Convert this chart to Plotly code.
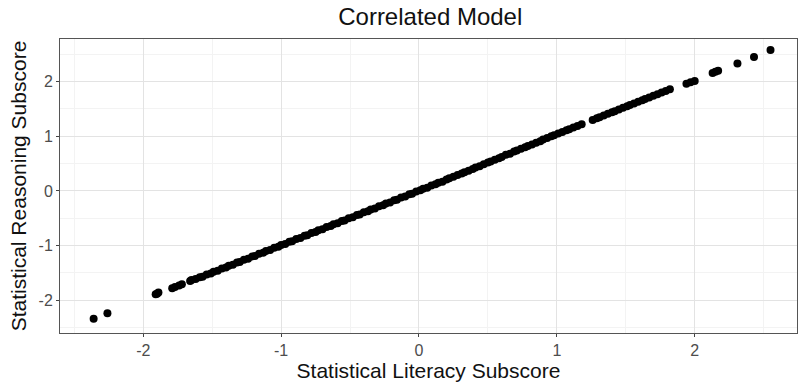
import plotly.graph_objects as go

# Factor scores from the correlated model: literacy (x) vs reasoning (y)
literacy = [
    -2.36, -2.26, -1.91, -1.90, -1.89, -1.79, -1.77, -1.74, -1.72, -1.66, -1.65,
    -1.62, -1.59, -1.57, -1.54, -1.51, -1.49, -1.46, -1.43, -1.40, -1.38,
    -1.35, -1.32, -1.30, -1.27, -1.24, -1.21, -1.19, -1.16, -1.13, -1.11,
    -1.08, -1.05, -1.02, -1.00, -0.97, -0.94, -0.92, -0.89, -0.86, -0.83,
    -0.81, -0.78, -0.75, -0.73, -0.70, -0.67, -0.64, -0.62, -0.59, -0.56,
    -0.54, -0.51, -0.48, -0.45, -0.43, -0.40, -0.37, -0.35, -0.32, -0.29,
    -0.26, -0.24, -0.21, -0.18, -0.16, -0.13, -0.10, -0.07, -0.05, -0.02,
    0.01, 0.03, 0.06, 0.09, 0.12, 0.14, 0.17, 0.20, 0.22, 0.25,
    0.28, 0.31, 0.33, 0.36, 0.39, 0.41, 0.44, 0.47, 0.50, 0.52,
    0.55, 0.58, 0.60, 0.63, 0.66, 0.69, 0.71, 0.74, 0.77, 0.79,
    0.82, 0.85, 0.88, 0.90, 0.93, 0.96, 0.98, 1.01, 1.04, 1.07,
    1.09, 1.12, 1.15, 1.18, 1.26, 1.29, 1.31, 1.34, 1.37, 1.40,
    1.42, 1.45, 1.48, 1.51, 1.53, 1.56, 1.59, 1.62, 1.64, 1.67,
    1.70, 1.73, 1.76, 1.79, 1.82,
    1.94, 1.97, 2.00, 2.13, 2.15, 2.17, 2.31, 2.43, 2.55,
]
reasoning = [
    -2.34, -2.24, -1.89, -1.88, -1.86, -1.78, -1.76, -1.73, -1.71, -1.65, -1.63,
    -1.61, -1.58, -1.57, -1.53, -1.51, -1.48, -1.46, -1.42, -1.40, -1.37,
    -1.35, -1.31, -1.30, -1.26, -1.24, -1.20, -1.19, -1.15, -1.13, -1.10,
    -1.08, -1.04, -1.02, -0.99, -0.97, -0.93, -0.92, -0.88, -0.86, -0.82,
    -0.81, -0.77, -0.75, -0.72, -0.70, -0.66, -0.64, -0.61, -0.59, -0.55,
    -0.54, -0.50, -0.48, -0.44, -0.43, -0.39, -0.37, -0.34, -0.32, -0.28,
    -0.26, -0.23, -0.21, -0.17, -0.16, -0.12, -0.10, -0.06, -0.05, -0.01,
    0.01, 0.04, 0.06, 0.10, 0.12, 0.15, 0.17, 0.21, 0.23, 0.26,
    0.29, 0.32, 0.34, 0.37, 0.40, 0.43, 0.45, 0.49, 0.52, 0.54,
    0.57, 0.60, 0.62, 0.66, 0.68, 0.72, 0.74, 0.77, 0.80, 0.82,
    0.85, 0.88, 0.91, 0.94, 0.97, 1.00, 1.02, 1.05, 1.08, 1.11,
    1.13, 1.16, 1.19, 1.22, 1.30, 1.33, 1.35, 1.38, 1.41, 1.44,
    1.46, 1.49, 1.52, 1.55, 1.57, 1.60, 1.63, 1.66, 1.68, 1.71,
    1.74, 1.77, 1.80, 1.83, 1.86,
    1.96, 1.99, 2.01, 2.16, 2.18, 2.20, 2.33, 2.45, 2.58,
]

x_ticks = [-2, -1, 0, 1, 2]
y_ticks = [-2, -1, 0, 1, 2]

FONT = "Liberation Sans, Arial, sans-serif"

fig = go.Figure(
    go.Scatter(
        x=literacy,
        y=reasoning,
        mode="markers",
        marker=dict(color="black", size=8, line=dict(width=0)),
        showlegend=False,
        hoverinfo="x+y",
    )
)

axis_common = dict(
    showgrid=True,
    gridcolor="#e3e3e3",
    gridwidth=1,
    zeroline=False,
    showline=True,
    linecolor="#555555",
    linewidth=1,
    mirror=True,
    ticks="outside",
    ticklen=3,
    tickwidth=1,
    tickcolor="#444444",
    tickfont=dict(family=FONT, size=16, color="#4d4d4d"),
    minor=dict(showgrid=True, gridcolor="#f3f3f3", gridwidth=1, dtick=0.5),
)

fig.update_xaxes(
    **axis_common,
    range=[-2.604, 2.742],
    tickmode="array",
    tickvals=x_ticks,
    ticktext=[str(v) for v in x_ticks],
    title=dict(text="Statistical Literacy Subscore",
               font=dict(family=FONT, size=21, color="#111111"), standoff=3),
)
fig.update_yaxes(
    **axis_common,
    range=[-2.60, 2.78],
    tickmode="array",
    tickvals=y_ticks,
    ticktext=[str(v) for v in y_ticks],
    title=dict(text="Statistical Reasoning Subscore",
               font=dict(family=FONT, size=21, color="#111111"), standoff=6),
)

fig.update_layout(
    width=799,
    height=389,
    margin=dict(l=60, r=2, t=39, b=56, autoexpand=False),
    paper_bgcolor="white",
    plot_bgcolor="white",
    title=dict(
        text="Correlated Model",
        font=dict(family=FONT, size=24, color="#111111"),
        x=0.5385, xanchor="center",
        y=1 - 17 / 389, yref="container", yanchor="middle",
    ),
)

fig.write_html("out.html")
